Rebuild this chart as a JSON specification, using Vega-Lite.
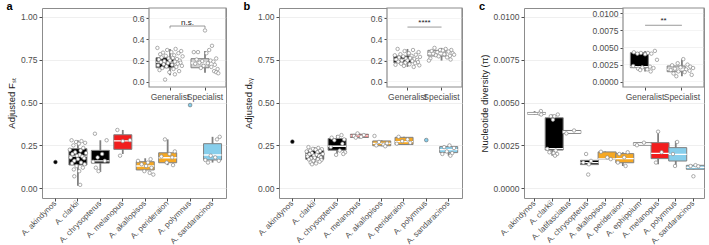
{
"$schema":"https://vega.github.io/schema/vega-lite/v6.json",
"background":"white",
"padding":{"left":5,"top":0,"right":3,"bottom":0},
"spacing":14,
"config":{
 "font":"Liberation Sans",
 "axis":{"labelFont":"Liberation Sans","titleFont":"Liberation Sans","labelColor":"#4d4d4d","labelFontSize":8.5,"titleFontSize":9.5,"titleFontWeight":"normal","titleColor":"#1a1a1a","tickColor":"#4d4d4d","tickSize":3,"domain":false,"gridColor":"#ebebeb","gridWidth":0.8,"labelOverlap":false},
 "axisX":{"grid":false},
 "view":{"stroke":"#8c8c8c","strokeWidth":1}
},
"datasets":{
 "aBox":[
  {"sp":"A. clarkii","lo":0.015,"q1":0.136,"med":0.188,"q3":0.231,"hi":0.28},
  {"sp":"A. chrysopterus","lo":0.095,"q1":0.147,"med":0.16,"q3":0.221,"hi":0.28},
  {"sp":"A. melanopus","lo":0.2,"q1":0.227,"med":0.276,"q3":0.312,"hi":0.34},
  {"sp":"A. akallopisos","lo":0.095,"q1":0.107,"med":0.13,"q3":0.155,"hi":0.175},
  {"sp":"A. perideraion","lo":0.135,"q1":0.149,"med":0.178,"q3":0.207,"hi":0.285},
  {"sp":"A. sandaracinos","lo":0.15,"q1":0.165,"med":0.194,"q3":0.26,"hi":0.3}
 ],
 "aOne":[{"sp":"A. akindynos","v":0.153},{"sp":"A. polymnus","v":0.485}],
 "aPts":[
  {"sp":"A. clarkii","v":0.28,"j":-0.7},{"sp":"A. clarkii","v":0.275,"j":0.4},{"sp":"A. clarkii","v":0.27,"j":-0.2},{"sp":"A. clarkii","v":0.265,"j":0.8},{"sp":"A. clarkii","v":0.26,"j":0.1},{"sp":"A. clarkii","v":0.25,"j":-0.5},{"sp":"A. clarkii","v":0.235,"j":0.6},{"sp":"A. clarkii","v":0.225,"j":-0.9},{"sp":"A. clarkii","v":0.22,"j":0.3},{"sp":"A. clarkii","v":0.21,"j":-0.3},{"sp":"A. clarkii","v":0.205,"j":0.9},{"sp":"A. clarkii","v":0.2,"j":-0.6},{"sp":"A. clarkii","v":0.195,"j":0.2},{"sp":"A. clarkii","v":0.19,"j":-0.1},{"sp":"A. clarkii","v":0.185,"j":0.5},{"sp":"A. clarkii","v":0.18,"j":-0.8},{"sp":"A. clarkii","v":0.175,"j":0.7},{"sp":"A. clarkii","v":0.17,"j":0.0},{"sp":"A. clarkii","v":0.16,"j":-0.4},{"sp":"A. clarkii","v":0.15,"j":0.35},{"sp":"A. clarkii","v":0.145,"j":-0.65},{"sp":"A. clarkii","v":0.14,"j":0.75},{"sp":"A. clarkii","v":0.13,"j":-0.15},{"sp":"A. clarkii","v":0.12,"j":0.55},{"sp":"A. clarkii","v":0.11,"j":-0.45},{"sp":"A. clarkii","v":0.1,"j":0.15},{"sp":"A. clarkii","v":0.07,"j":-0.4},{"sp":"A. clarkii","v":0.02,"j":0.25},
  {"sp":"A. chrysopterus","v":0.318,"j":-0.6},{"sp":"A. chrysopterus","v":0.28,"j":0.7},{"sp":"A. chrysopterus","v":0.2,"j":0.2},{"sp":"A. chrysopterus","v":0.18,"j":-0.3},{"sp":"A. chrysopterus","v":0.16,"j":0.5},{"sp":"A. chrysopterus","v":0.155,"j":-0.8},{"sp":"A. chrysopterus","v":0.12,"j":-0.5},{"sp":"A. chrysopterus","v":0.1,"j":-0.2},
  {"sp":"A. melanopus","v":0.34,"j":-0.6},{"sp":"A. melanopus","v":0.28,"j":0.8},{"sp":"A. melanopus","v":0.275,"j":0.0},{"sp":"A. melanopus","v":0.19,"j":-0.3},
  {"sp":"A. akallopisos","v":0.17,"j":0.6},{"sp":"A. akallopisos","v":0.16,"j":-0.8},{"sp":"A. akallopisos","v":0.15,"j":0.3},{"sp":"A. akallopisos","v":0.14,"j":-0.4},{"sp":"A. akallopisos","v":0.13,"j":0.1},{"sp":"A. akallopisos","v":0.12,"j":0.7},{"sp":"A. akallopisos","v":0.1,"j":-0.1},{"sp":"A. akallopisos","v":0.09,"j":0.5},{"sp":"A. akallopisos","v":0.08,"j":0.9},
  {"sp":"A. perideraion","v":0.285,"j":-0.3},{"sp":"A. perideraion","v":0.215,"j":0.8},{"sp":"A. perideraion","v":0.2,"j":0.2},{"sp":"A. perideraion","v":0.185,"j":-0.7},{"sp":"A. perideraion","v":0.18,"j":0.5},{"sp":"A. perideraion","v":0.15,"j":-0.1},{"sp":"A. perideraion","v":0.135,"j":0.6},
  {"sp":"A. sandaracinos","v":0.3,"j":0.8},{"sp":"A. sandaracinos","v":0.285,"j":0.5},{"sp":"A. sandaracinos","v":0.19,"j":-0.2},{"sp":"A. sandaracinos","v":0.18,"j":0.3},{"sp":"A. sandaracinos","v":0.165,"j":-0.8},{"sp":"A. sandaracinos","v":0.16,"j":0.7},{"sp":"A. sandaracinos","v":0.15,"j":-0.5}
 ],
 "aiBox":[
  {"g":"Generalist","lo":0.06,"q1":0.132,"med":0.186,"q3":0.227,"hi":0.31},
  {"g":"Specialist","lo":0.085,"q1":0.132,"med":0.177,"q3":0.218,"hi":0.29}
 ],
 "aiPts":[
  {"g":"Generalist","v":0.32,"j":-0.9},{"g":"Generalist","v":0.31,"j":0.4},{"g":"Generalist","v":0.3,"j":-0.2},{"g":"Generalist","v":0.29,"j":0.8},{"g":"Generalist","v":0.28,"j":0.1},{"g":"Generalist","v":0.275,"j":-0.5},{"g":"Generalist","v":0.27,"j":0.6},{"g":"Generalist","v":0.26,"j":-0.7},{"g":"Generalist","v":0.25,"j":0.3},{"g":"Generalist","v":0.245,"j":-0.3},{"g":"Generalist","v":0.24,"j":0.9},{"g":"Generalist","v":0.23,"j":-0.6},{"g":"Generalist","v":0.225,"j":0.2},{"g":"Generalist","v":0.22,"j":-0.1},{"g":"Generalist","v":0.215,"j":0.5},{"g":"Generalist","v":0.21,"j":-0.8},{"g":"Generalist","v":0.2,"j":0.7},{"g":"Generalist","v":0.2,"j":0.0},{"g":"Generalist","v":0.195,"j":-0.4},{"g":"Generalist","v":0.19,"j":0.35},{"g":"Generalist","v":0.185,"j":-0.65},{"g":"Generalist","v":0.18,"j":0.75},{"g":"Generalist","v":0.175,"j":-0.15},{"g":"Generalist","v":0.17,"j":0.55},{"g":"Generalist","v":0.165,"j":-0.45},{"g":"Generalist","v":0.16,"j":0.15},{"g":"Generalist","v":0.155,"j":-0.85},{"g":"Generalist","v":0.15,"j":0.85},{"g":"Generalist","v":0.145,"j":-0.25},{"g":"Generalist","v":0.14,"j":0.45},{"g":"Generalist","v":0.13,"j":-0.55},{"g":"Generalist","v":0.12,"j":0.25},{"g":"Generalist","v":0.11,"j":-0.75},{"g":"Generalist","v":0.1,"j":0.65},{"g":"Generalist","v":0.09,"j":-0.05},{"g":"Generalist","v":0.07,"j":0.35},{"g":"Generalist","v":0.02,"j":-0.35},
  {"g":"Specialist","v":0.485,"j":0.0},{"g":"Specialist","v":0.34,"j":0.5},{"g":"Specialist","v":0.3,"j":0.3},{"g":"Specialist","v":0.28,"j":-0.8},{"g":"Specialist","v":0.28,"j":-0.5},{"g":"Specialist","v":0.27,"j":0.1},{"g":"Specialist","v":0.22,"j":0.8},{"g":"Specialist","v":0.21,"j":-0.6},{"g":"Specialist","v":0.2,"j":0.4},{"g":"Specialist","v":0.195,"j":-0.2},{"g":"Specialist","v":0.19,"j":0.6},{"g":"Specialist","v":0.18,"j":-0.4},{"g":"Specialist","v":0.175,"j":0.2},{"g":"Specialist","v":0.17,"j":-0.7},{"g":"Specialist","v":0.16,"j":0.7},{"g":"Specialist","v":0.15,"j":-0.1},{"g":"Specialist","v":0.14,"j":0.45},{"g":"Specialist","v":0.13,"j":-0.3},{"g":"Specialist","v":0.12,"j":0.9},{"g":"Specialist","v":0.1,"j":0.65},{"g":"Specialist","v":0.09,"j":0.8},{"g":"Specialist","v":0.08,"j":0.95}
 ],
 "bBox":[
  {"sp":"A. clarkii","lo":0.145,"q1":0.169,"med":0.198,"q3":0.221,"hi":0.24},
  {"sp":"A. chrysopterus","lo":0.2,"q1":0.222,"med":0.245,"q3":0.29,"hi":0.31},
  {"sp":"A. melanopus","lo":0.29,"q1":0.296,"med":0.305,"q3":0.315,"hi":0.32},
  {"sp":"A. akallopisos","lo":0.245,"q1":0.248,"med":0.262,"q3":0.276,"hi":0.28},
  {"sp":"A. perideraion","lo":0.255,"q1":0.255,"med":0.272,"q3":0.297,"hi":0.3},
  {"sp":"A. sandaracinos","lo":0.19,"q1":0.208,"med":0.225,"q3":0.243,"hi":0.25}
 ],
 "bOne":[{"sp":"A. akindynos","v":0.272},{"sp":"A. polymnus","v":0.281}],
 "bPts":[
  {"sp":"A. clarkii","v":0.24,"j":-0.7},{"sp":"A. clarkii","v":0.235,"j":0.4},{"sp":"A. clarkii","v":0.23,"j":-0.2},{"sp":"A. clarkii","v":0.228,"j":0.8},{"sp":"A. clarkii","v":0.225,"j":0.1},{"sp":"A. clarkii","v":0.22,"j":-0.5},{"sp":"A. clarkii","v":0.218,"j":0.6},{"sp":"A. clarkii","v":0.215,"j":-0.9},{"sp":"A. clarkii","v":0.21,"j":0.3},{"sp":"A. clarkii","v":0.205,"j":-0.3},{"sp":"A. clarkii","v":0.2,"j":0.9},{"sp":"A. clarkii","v":0.198,"j":-0.6},{"sp":"A. clarkii","v":0.195,"j":0.2},{"sp":"A. clarkii","v":0.19,"j":-0.1},{"sp":"A. clarkii","v":0.188,"j":0.5},{"sp":"A. clarkii","v":0.185,"j":-0.8},{"sp":"A. clarkii","v":0.18,"j":0.7},{"sp":"A. clarkii","v":0.178,"j":0.0},{"sp":"A. clarkii","v":0.175,"j":-0.4},{"sp":"A. clarkii","v":0.17,"j":0.35},{"sp":"A. clarkii","v":0.168,"j":-0.65},{"sp":"A. clarkii","v":0.165,"j":0.75},{"sp":"A. clarkii","v":0.16,"j":-0.15},{"sp":"A. clarkii","v":0.155,"j":0.55},{"sp":"A. clarkii","v":0.15,"j":-0.45},{"sp":"A. clarkii","v":0.145,"j":0.15},{"sp":"A. clarkii","v":0.14,"j":-0.3},
  {"sp":"A. chrysopterus","v":0.31,"j":0.5},{"sp":"A. chrysopterus","v":0.3,"j":0.1},{"sp":"A. chrysopterus","v":0.295,"j":-0.6},{"sp":"A. chrysopterus","v":0.285,"j":0.8},{"sp":"A. chrysopterus","v":0.28,"j":-0.3},{"sp":"A. chrysopterus","v":0.26,"j":0.6},{"sp":"A. chrysopterus","v":0.24,"j":-0.7},{"sp":"A. chrysopterus","v":0.22,"j":0.3},{"sp":"A. chrysopterus","v":0.21,"j":0.9},{"sp":"A. chrysopterus","v":0.2,"j":0.7},{"sp":"A. chrysopterus","v":0.195,"j":-0.1},
  {"sp":"A. melanopus","v":0.32,"j":-0.2},{"sp":"A. melanopus","v":0.31,"j":0.5},{"sp":"A. melanopus","v":0.305,"j":-0.6},{"sp":"A. melanopus","v":0.3,"j":0.2},{"sp":"A. melanopus","v":0.295,"j":-0.4},
  {"sp":"A. akallopisos","v":0.305,"j":-0.8},{"sp":"A. akallopisos","v":0.27,"j":-0.3},{"sp":"A. akallopisos","v":0.262,"j":0.6},{"sp":"A. akallopisos","v":0.255,"j":0.2},{"sp":"A. akallopisos","v":0.25,"j":-0.6},{"sp":"A. akallopisos","v":0.245,"j":0.4},
  {"sp":"A. perideraion","v":0.3,"j":-0.6},{"sp":"A. perideraion","v":0.285,"j":0.4},{"sp":"A. perideraion","v":0.275,"j":-0.2},{"sp":"A. perideraion","v":0.265,"j":0.7},{"sp":"A. perideraion","v":0.26,"j":-0.8},
  {"sp":"A. sandaracinos","v":0.25,"j":0.1},{"sp":"A. sandaracinos","v":0.24,"j":-0.5},{"sp":"A. sandaracinos","v":0.235,"j":0.6},{"sp":"A. sandaracinos","v":0.215,"j":-0.2},{"sp":"A. sandaracinos","v":0.205,"j":0.4},{"sp":"A. sandaracinos","v":0.2,"j":-0.7},{"sp":"A. sandaracinos","v":0.19,"j":0.2}
 ],
 "biBox":[
  {"g":"Generalist","lo":0.14,"q1":0.18,"med":0.21,"q3":0.243,"hi":0.31},
  {"g":"Specialist","lo":0.2,"q1":0.243,"med":0.265,"q3":0.297,"hi":0.32}
 ],
 "biPts":[
  {"g":"Generalist","v":0.31,"j":-0.7},{"g":"Generalist","v":0.3,"j":0.4},{"g":"Generalist","v":0.29,"j":-0.2},{"g":"Generalist","v":0.28,"j":0.8},{"g":"Generalist","v":0.27,"j":0.1},{"g":"Generalist","v":0.26,"j":-0.5},{"g":"Generalist","v":0.255,"j":0.6},{"g":"Generalist","v":0.25,"j":-0.9},{"g":"Generalist","v":0.245,"j":0.3},{"g":"Generalist","v":0.24,"j":-0.3},{"g":"Generalist","v":0.235,"j":0.9},{"g":"Generalist","v":0.23,"j":-0.6},{"g":"Generalist","v":0.225,"j":0.2},{"g":"Generalist","v":0.22,"j":-0.1},{"g":"Generalist","v":0.215,"j":0.5},{"g":"Generalist","v":0.21,"j":-0.8},{"g":"Generalist","v":0.205,"j":0.7},{"g":"Generalist","v":0.2,"j":0.0},{"g":"Generalist","v":0.2,"j":-0.4},{"g":"Generalist","v":0.195,"j":0.35},{"g":"Generalist","v":0.19,"j":-0.65},{"g":"Generalist","v":0.185,"j":0.75},{"g":"Generalist","v":0.18,"j":-0.15},{"g":"Generalist","v":0.175,"j":0.55},{"g":"Generalist","v":0.17,"j":-0.45},{"g":"Generalist","v":0.165,"j":0.15},{"g":"Generalist","v":0.16,"j":-0.85},{"g":"Generalist","v":0.155,"j":0.85},{"g":"Generalist","v":0.15,"j":-0.25},{"g":"Generalist","v":0.14,"j":0.45},
  {"g":"Specialist","v":0.32,"j":-0.5},{"g":"Specialist","v":0.31,"j":0.3},{"g":"Specialist","v":0.3,"j":0.7},{"g":"Specialist","v":0.3,"j":-0.1},{"g":"Specialist","v":0.295,"j":0.1},{"g":"Specialist","v":0.29,"j":-0.7},{"g":"Specialist","v":0.285,"j":0.5},{"g":"Specialist","v":0.28,"j":-0.3},{"g":"Specialist","v":0.27,"j":0.8},{"g":"Specialist","v":0.265,"j":-0.6},{"g":"Specialist","v":0.26,"j":0.2},{"g":"Specialist","v":0.255,"j":0.9},{"g":"Specialist","v":0.25,"j":-0.4},{"g":"Specialist","v":0.245,"j":0.6},{"g":"Specialist","v":0.24,"j":-0.2},{"g":"Specialist","v":0.23,"j":0.4},{"g":"Specialist","v":0.22,"j":-0.8},{"g":"Specialist","v":0.21,"j":0.65},{"g":"Specialist","v":0.2,"j":-0.9}
 ],
 "cBox":[
  {"sp":"A. akindynos","lo":0.0043,"q1":0.00432,"med":0.00437,"q3":0.00442,"hi":0.0045},
  {"sp":"A. clarkii","lo":0.0019,"q1":0.00223,"med":0.00231,"q3":0.00411,"hi":0.0043},
  {"sp":"A. latifasciatus","lo":0.0032,"q1":0.0032,"med":0.00328,"q3":0.00337,"hi":0.00337},
  {"sp":"A. chrysopterus","lo":0.00135,"q1":0.00138,"med":0.0015,"q3":0.00163,"hi":0.00165},
  {"sp":"A. akallopisos","lo":0.0017,"q1":0.0017,"med":0.00172,"q3":0.00212,"hi":0.00215},
  {"sp":"A. perideraion","lo":0.0013,"q1":0.00149,"med":0.00173,"q3":0.00202,"hi":0.0021},
  {"sp":"A. ephippium","lo":0.00251,"q1":0.00251,"med":0.00258,"q3":0.00266,"hi":0.00266},
  {"sp":"A. melanopus","lo":0.0014,"q1":0.00173,"med":0.00204,"q3":0.00266,"hi":0.0033},
  {"sp":"A. polymnus","lo":0.00124,"q1":0.00159,"med":0.00198,"q3":0.00237,"hi":0.00276},
  {"sp":"A. sandaracinos","lo":0.0011,"q1":0.00111,"med":0.00122,"q3":0.00134,"hi":0.00135}
 ],
 "cPts":[
  {"sp":"A. akindynos","v":0.0045,"j":0.9},{"sp":"A. akindynos","v":0.00435,"j":0.7},{"sp":"A. akindynos","v":0.0043,"j":0.95},
  {"sp":"A. clarkii","v":0.0043,"j":0.8},{"sp":"A. clarkii","v":0.0042,"j":-0.2},{"sp":"A. clarkii","v":0.0042,"j":0.3},{"sp":"A. clarkii","v":0.004,"j":0.1},{"sp":"A. clarkii","v":0.0023,"j":-0.7},{"sp":"A. clarkii","v":0.0022,"j":0.5},{"sp":"A. clarkii","v":0.0021,"j":-0.4},{"sp":"A. clarkii","v":0.00205,"j":0.2},{"sp":"A. clarkii","v":0.002,"j":0.7},{"sp":"A. clarkii","v":0.0019,"j":0.4},
  {"sp":"A. latifasciatus","v":0.00337,"j":0.6},{"sp":"A. latifasciatus","v":0.0032,"j":-0.5},
  {"sp":"A. chrysopterus","v":0.002,"j":-0.2},{"sp":"A. chrysopterus","v":0.0016,"j":0.5},{"sp":"A. chrysopterus","v":0.0015,"j":-0.6},{"sp":"A. chrysopterus","v":0.0014,"j":0.2},{"sp":"A. chrysopterus","v":0.0008,"j":0.1},
  {"sp":"A. akallopisos","v":0.00213,"j":-0.6},{"sp":"A. akallopisos","v":0.0018,"j":0.3},{"sp":"A. akallopisos","v":0.0017,"j":0.8},
  {"sp":"A. perideraion","v":0.0021,"j":0.7},{"sp":"A. perideraion","v":0.002,"j":-0.5},{"sp":"A. perideraion","v":0.0018,"j":0.2},{"sp":"A. perideraion","v":0.0015,"j":-0.7},{"sp":"A. perideraion","v":0.0013,"j":0.4},
  {"sp":"A. ephippium","v":0.00266,"j":0.5},{"sp":"A. ephippium","v":0.00251,"j":-0.5},
  {"sp":"A. melanopus","v":0.0033,"j":0.0},{"sp":"A. melanopus","v":0.0021,"j":0.5},{"sp":"A. melanopus","v":0.0015,"j":-0.3},
  {"sp":"A. polymnus","v":0.0027,"j":0.2},{"sp":"A. polymnus","v":0.002,"j":-0.4},{"sp":"A. polymnus","v":0.0013,"j":-0.1},
  {"sp":"A. sandaracinos","v":0.00135,"j":0.3},{"sp":"A. sandaracinos","v":0.0013,"j":-0.4},{"sp":"A. sandaracinos","v":0.00128,"j":0.7},{"sp":"A. sandaracinos","v":0.0007,"j":0.0}
 ],
 "ciBox":[
  {"g":"Generalist","lo":0.0015,"q1":0.00205,"med":0.0022,"q3":0.00424,"hi":0.0045},
  {"g":"Specialist","lo":0.0008,"q1":0.00146,"med":0.0018,"q3":0.0023,"hi":0.0033}
 ],
 "ciPts":[
  {"g":"Generalist","v":0.0045,"j":0.7},{"g":"Generalist","v":0.0043,"j":-0.8},{"g":"Generalist","v":0.0042,"j":-0.3},{"g":"Generalist","v":0.0042,"j":0.2},{"g":"Generalist","v":0.0041,"j":-0.55},{"g":"Generalist","v":0.0041,"j":0.45},{"g":"Generalist","v":0.004,"j":0.0},{"g":"Generalist","v":0.0032,"j":0.85},{"g":"Generalist","v":0.0023,"j":-0.85},{"g":"Generalist","v":0.0022,"j":0.35},{"g":"Generalist","v":0.0021,"j":-0.2},{"g":"Generalist","v":0.002,"j":0.6},{"g":"Generalist","v":0.0019,"j":-0.5},{"g":"Generalist","v":0.0018,"j":0.15},{"g":"Generalist","v":0.0017,"j":-0.35},{"g":"Generalist","v":0.0015,"j":0.4},
  {"g":"Specialist","v":0.0033,"j":0.1},{"g":"Specialist","v":0.0027,"j":-0.3},{"g":"Specialist","v":0.0025,"j":0.4},{"g":"Specialist","v":0.0024,"j":-0.7},{"g":"Specialist","v":0.0022,"j":0.6},{"g":"Specialist","v":0.0021,"j":-0.1},{"g":"Specialist","v":0.002,"j":0.8},{"g":"Specialist","v":0.0019,"j":-0.5},{"g":"Specialist","v":0.0018,"j":0.3},{"g":"Specialist","v":0.0017,"j":-0.8},{"g":"Specialist","v":0.0016,"j":0.55},{"g":"Specialist","v":0.0015,"j":-0.25},{"g":"Specialist","v":0.0014,"j":0.2},{"g":"Specialist","v":0.0012,"j":-0.6},{"g":"Specialist","v":0.001,"j":0.7},{"g":"Specialist","v":0.0008,"j":-0.4}
 ]
},
"resolve":{"scale":{"fill":"independent","xOffset":"independent"}},
"hconcat":[
 {
  "width":184,"height":190,
  "title":{"text":"a","anchor":"start","frame":"bounds","fontSize":11,"fontWeight":"bold","font":"Liberation Sans","offset":2,"dy":7},
  "layer":[
   {"layer":[
    {"data":{"name":"aBox"},"mark":{"type":"rule","color":"#808080","strokeWidth":1.8},
     "encoding":{
      "x":{"field":"sp","type":"nominal","scale":{"domain":["A. akindynos","A. clarkii","A. chrysopterus","A. melanopus","A. akallopisos","A. perideraion","A. polymnus","A. sandaracinos"],"paddingInner":0,"paddingOuter":0.1},"axis":{"orient":"bottom","title":null,"labelAngle":-45,"labelAlign":"right","labelBaseline":"middle","labelFontSize":8,"labelPadding":1}},
      "y":{"field":"lo","type":"quantitative","scale":{"domain":[-0.0565,1.0507],"nice":false,"zero":false},"axis":{"orient":"left","title":"Adjusted Fₛₜ","values":[0,0.25,0.5,0.75,1],"format":".2f","grid":true}},
      "y2":{"field":"hi"}}},
    {"data":{"name":"aBox"},"mark":{"type":"bar","stroke":"#808080","strokeWidth":1,"width":{"band":0.8}},
     "encoding":{"x":{"field":"sp","type":"nominal"},"y":{"field":"q1","type":"quantitative"},"y2":{"field":"q3"},
      "fill":{"field":"sp","type":"nominal","scale":{"domain":["A. akindynos","A. clarkii","A. chrysopterus","A. melanopus","A. akallopisos","A. perideraion","A. polymnus","A. sandaracinos"],"range":["#000000","#000000","#000000","#f21d1d","#f6a823","#f6a823","#87ceeb","#87ceeb"]},"legend":null}}},
    {"data":{"name":"aBox"},"mark":{"type":"bar","stroke":"white","strokeWidth":1.3,"fillOpacity":0,"width":{"band":0.8}},
     "encoding":{"x":{"field":"sp","type":"nominal"},"y":{"field":"med","type":"quantitative"},"y2":{"field":"med"}}},
    {"data":{"name":"aPts"},"mark":{"type":"circle","fill":"white","stroke":"#8a8a8a","strokeWidth":0.7,"size":12,"opacity":1},
     "encoding":{"x":{"field":"sp","type":"nominal"},"xOffset":{"field":"j","type":"quantitative","scale":{"domain":[-1,1],"range":[2.2,20.2]}},"y":{"field":"v","type":"quantitative"}}},
    {"data":{"name":"aOne"},"mark":{"type":"circle","stroke":"#555555","strokeWidth":0.5,"size":14,"opacity":1},
     "encoding":{"x":{"field":"sp","type":"nominal"},"y":{"field":"v","type":"quantitative"},"fill":{"field":"sp","type":"nominal"}}}
   ]},
   {"layer":[
    {"data":{"values":[{}]},"mark":{"type":"bar","fill":"white","stroke":"#8c8c8c","strokeWidth":1.2,"width":{"band":1}},
     "encoding":{"x":{"datum":"f","type":"nominal","scale":{"domain":["f"],"range":[107,184],"paddingInner":0,"paddingOuter":0},"axis":null},
      "y":{"datum":-0.05,"type":"quantitative","scale":{"domain":[-0.05,0.6975],"range":[79,0],"nice":false,"zero":false},"axis":null},
      "y2":{"datum":0.6975}}},
    {"data":{"values":[{"gv":0},{"gv":0.2},{"gv":0.4},{"gv":0.6}]},"mark":{"type":"tick","color":"#ebebeb","thickness":0.8,"size":76},
     "encoding":{"x":{"datum":"f","type":"nominal"},"y":{"field":"gv","type":"quantitative"}}}
   ]},
   {"layer":[
    {"data":{"name":"aiBox"},"mark":{"type":"rule","color":"#808080","strokeWidth":1.8},
     "encoding":{
      "x":{"field":"g","type":"nominal","scale":{"domain":["Generalist","Specialist"],"range":[107,184],"paddingInner":0,"paddingOuter":0.1},"axis":{"orient":"bottom","offset":-111,"title":null,"labelAngle":0}},
      "y":{"field":"lo","type":"quantitative","scale":{"domain":[-0.05,0.6975],"range":[79,0],"nice":false,"zero":false},"axis":{"orient":"left","offset":-107,"title":null,"values":[0,0.2,0.4,0.6],"format":".1f","grid":false}},
      "y2":{"field":"hi"}}},
    {"data":{"name":"aiBox"},"mark":{"type":"bar","stroke":"#808080","strokeWidth":1,"width":{"band":0.8}},
     "encoding":{"x":{"field":"g","type":"nominal"},"y":{"field":"q1","type":"quantitative"},"y2":{"field":"q3"},
      "fill":{"field":"g","type":"nominal","scale":{"domain":["Generalist","Specialist"],"range":["#000000","#d4d4d4"]},"legend":null}}},
    {"data":{"name":"aiBox"},"mark":{"type":"bar","stroke":"white","strokeWidth":1.3,"fillOpacity":0,"width":{"band":0.8}},
     "encoding":{"x":{"field":"g","type":"nominal"},"y":{"field":"med","type":"quantitative"},"y2":{"field":"med"}}},
    {"data":{"name":"aiPts"},"mark":{"type":"circle","fill":"white","stroke":"#8a8a8a","strokeWidth":0.7,"size":12,"opacity":1},
     "encoding":{"x":{"field":"g","type":"nominal"},"xOffset":{"field":"j","type":"quantitative","scale":{"domain":[-1,1],"range":[3.5,31.5]}},"y":{"field":"v","type":"quantitative"}}},
    {"data":{"values":[{}]},"mark":{"type":"rule","color":"#808080","strokeWidth":0.8},
     "encoding":{"x":{"datum":"Generalist"},"x2":{"datum":"Specialist"},"y":{"datum":0.527}}},
    {"data":{"values":[{"g":"Generalist"},{"g":"Specialist"}]},"mark":{"type":"rule","color":"#808080","strokeWidth":0.8},
     "encoding":{"x":{"field":"g","type":"nominal"},"y":{"datum":0.527},"y2":{"datum":0.505}}},
    {"data":{"values":[{}]},"mark":{"type":"text","fontSize":8,"font":"Liberation Sans","color":"#1a1a1a","baseline":"alphabetic"},
     "encoding":{"x":{"datum":"Generalist","bandPosition":1},"y":{"datum":0.537},"text":{"value":"n.s."}}}
   ]}
  ],
  "resolve":{"scale":{"x":"independent","y":"independent","fill":"independent","xOffset":"independent"},"axis":{"x":"independent","y":"independent"}}
 },
 {
  "width":183,"height":190,
  "title":{"text":"b","anchor":"start","frame":"bounds","fontSize":11,"fontWeight":"bold","font":"Liberation Sans","offset":2,"dy":7},
  "layer":[
   {"layer":[
    {"data":{"name":"bBox"},"mark":{"type":"rule","color":"#808080","strokeWidth":1.8},
     "encoding":{
      "x":{"field":"sp","type":"nominal","scale":{"domain":["A. akindynos","A. clarkii","A. chrysopterus","A. melanopus","A. akallopisos","A. perideraion","A. polymnus","A. sandaracinos"],"paddingInner":0,"paddingOuter":0.1},"axis":{"orient":"bottom","title":null,"labelAngle":-45,"labelAlign":"right","labelBaseline":"middle","labelFontSize":8,"labelPadding":1}},
      "y":{"field":"lo","type":"quantitative","scale":{"domain":[-0.0565,1.0507],"nice":false,"zero":false},"axis":{"orient":"left","title":"Adjusted dₓᵧ","values":[0,0.25,0.5,0.75,1],"format":".2f","grid":true}},
      "y2":{"field":"hi"}}},
    {"data":{"name":"bBox"},"mark":{"type":"bar","stroke":"#808080","strokeWidth":1,"width":{"band":0.8}},
     "encoding":{"x":{"field":"sp","type":"nominal"},"y":{"field":"q1","type":"quantitative"},"y2":{"field":"q3"},
      "fill":{"field":"sp","type":"nominal","scale":{"domain":["A. akindynos","A. clarkii","A. chrysopterus","A. melanopus","A. akallopisos","A. perideraion","A. polymnus","A. sandaracinos"],"range":["#000000","#000000","#000000","#f21d1d","#f6a823","#f6a823","#87ceeb","#87ceeb"]},"legend":null}}},
    {"data":{"name":"bBox"},"mark":{"type":"bar","stroke":"white","strokeWidth":1.3,"fillOpacity":0,"width":{"band":0.8}},
     "encoding":{"x":{"field":"sp","type":"nominal"},"y":{"field":"med","type":"quantitative"},"y2":{"field":"med"}}},
    {"data":{"name":"bPts"},"mark":{"type":"circle","fill":"white","stroke":"#8a8a8a","strokeWidth":0.7,"size":12,"opacity":1},
     "encoding":{"x":{"field":"sp","type":"nominal"},"xOffset":{"field":"j","type":"quantitative","scale":{"domain":[-1,1],"range":[2.2,20.1]}},"y":{"field":"v","type":"quantitative"}}},
    {"data":{"name":"bOne"},"mark":{"type":"circle","stroke":"#555555","strokeWidth":0.5,"size":14,"opacity":1},
     "encoding":{"x":{"field":"sp","type":"nominal"},"y":{"field":"v","type":"quantitative"},"fill":{"field":"sp","type":"nominal"}}}
   ]},
   {"layer":[
    {"data":{"values":[{}]},"mark":{"type":"bar","fill":"white","stroke":"#8c8c8c","strokeWidth":1.2,"width":{"band":1}},
     "encoding":{"x":{"datum":"f","type":"nominal","scale":{"domain":["f"],"range":[108,183],"paddingInner":0,"paddingOuter":0},"axis":null},
      "y":{"datum":-0.05,"type":"quantitative","scale":{"domain":[-0.05,0.6975],"range":[79,0],"nice":false,"zero":false},"axis":null},
      "y2":{"datum":0.6975}}},
    {"data":{"values":[{"gv":0},{"gv":0.2},{"gv":0.4},{"gv":0.6}]},"mark":{"type":"tick","color":"#ebebeb","thickness":0.8,"size":74},
     "encoding":{"x":{"datum":"f","type":"nominal"},"y":{"field":"gv","type":"quantitative"}}}
   ]},
   {"layer":[
    {"data":{"name":"biBox"},"mark":{"type":"rule","color":"#808080","strokeWidth":1.8},
     "encoding":{
      "x":{"field":"g","type":"nominal","scale":{"domain":["Generalist","Specialist"],"range":[108,183],"paddingInner":0,"paddingOuter":0.1},"axis":{"orient":"bottom","offset":-111,"title":null,"labelAngle":0}},
      "y":{"field":"lo","type":"quantitative","scale":{"domain":[-0.05,0.6975],"range":[79,0],"nice":false,"zero":false},"axis":{"orient":"left","offset":-108,"title":null,"values":[0,0.2,0.4,0.6],"format":".1f","grid":false}},
      "y2":{"field":"hi"}}},
    {"data":{"name":"biBox"},"mark":{"type":"bar","stroke":"#808080","strokeWidth":1,"width":{"band":0.8}},
     "encoding":{"x":{"field":"g","type":"nominal"},"y":{"field":"q1","type":"quantitative"},"y2":{"field":"q3"},
      "fill":{"field":"g","type":"nominal","scale":{"domain":["Generalist","Specialist"],"range":["#000000","#d4d4d4"]},"legend":null}}},
    {"data":{"name":"biBox"},"mark":{"type":"bar","stroke":"white","strokeWidth":1.3,"fillOpacity":0,"width":{"band":0.8}},
     "encoding":{"x":{"field":"g","type":"nominal"},"y":{"field":"med","type":"quantitative"},"y2":{"field":"med"}}},
    {"data":{"name":"biPts"},"mark":{"type":"circle","fill":"white","stroke":"#8a8a8a","strokeWidth":0.7,"size":12,"opacity":1},
     "encoding":{"x":{"field":"g","type":"nominal"},"xOffset":{"field":"j","type":"quantitative","scale":{"domain":[-1,1],"range":[3,31]}},"y":{"field":"v","type":"quantitative"}}},
    {"data":{"values":[{}]},"mark":{"type":"rule","color":"#808080","strokeWidth":0.8},
     "encoding":{"x":{"datum":"Generalist"},"x2":{"datum":"Specialist"},"y":{"datum":0.517}}},
    {"data":{"values":[{}]},"mark":{"type":"text","fontSize":8,"font":"Liberation Sans","color":"#1a1a1a","baseline":"bottom"},
     "encoding":{"x":{"datum":"Generalist","bandPosition":1},"y":{"datum":0.522},"text":{"value":"****"}}}
   ]}
  ],
  "resolve":{"scale":{"x":"independent","y":"independent","fill":"independent","xOffset":"independent"},"axis":{"x":"independent","y":"independent"}}
 },
 {
  "width":180,"height":190,
  "title":{"text":"c","anchor":"start","frame":"bounds","fontSize":11,"fontWeight":"bold","font":"Liberation Sans","offset":2,"dy":7},
  "layer":[
   {"layer":[
    {"data":{"name":"cBox"},"mark":{"type":"rule","color":"#808080","strokeWidth":1.8},
     "encoding":{
      "x":{"field":"sp","type":"nominal","scale":{"domain":["A. akindynos","A. clarkii","A. latifasciatus","A. chrysopterus","A. akallopisos","A. perideraion","A. ephippium","A. melanopus","A. polymnus","A. sandaracinos"],"paddingInner":0,"paddingOuter":0.1},"axis":{"orient":"bottom","title":null,"labelAngle":-45,"labelAlign":"right","labelBaseline":"middle","labelFontSize":8,"labelPadding":1}},
      "y":{"field":"lo","type":"quantitative","scale":{"domain":[-0.000565,0.010507],"nice":false,"zero":false},"axis":{"orient":"left","title":"Nucleotide diversity (π)","values":[0,0.0025,0.005,0.0075,0.01],"format":".4f","grid":true}},
      "y2":{"field":"hi"}}},
    {"data":{"name":"cBox"},"mark":{"type":"bar","stroke":"#808080","strokeWidth":1,"width":{"band":0.8}},
     "encoding":{"x":{"field":"sp","type":"nominal"},"y":{"field":"q1","type":"quantitative"},"y2":{"field":"q3"},
      "fill":{"field":"sp","type":"nominal","scale":{"domain":["A. akindynos","A. clarkii","A. latifasciatus","A. chrysopterus","A. akallopisos","A. perideraion","A. ephippium","A. melanopus","A. polymnus","A. sandaracinos"],"range":["#ffffff","#000000","#ffffff","#000000","#f6a823","#f6a823","#ffffff","#f21d1d","#87ceeb","#87ceeb"]},"legend":null}}},
    {"data":{"name":"cBox"},"mark":{"type":"bar","stroke":"white","strokeWidth":1.3,"fillOpacity":0,"width":{"band":0.8}},
     "encoding":{"x":{"field":"sp","type":"nominal"},"y":{"field":"med","type":"quantitative"},"y2":{"field":"med"}}},
    {"data":{"name":"cPts"},"mark":{"type":"circle","fill":"white","stroke":"#8a8a8a","strokeWidth":0.7,"size":12,"opacity":1},
     "encoding":{"x":{"field":"sp","type":"nominal"},"xOffset":{"field":"j","type":"quantitative","scale":{"domain":[-1,1],"range":[1.8,15.8]}},"y":{"field":"v","type":"quantitative"}}}
   ]},
   {"layer":[
    {"data":{"values":[{}]},"mark":{"type":"bar","fill":"white","stroke":"#8c8c8c","strokeWidth":1.2,"width":{"band":1}},
     "encoding":{"x":{"datum":"f","type":"nominal","scale":{"domain":["f"],"range":[99,180],"paddingInner":0,"paddingOuter":0},"axis":null},
      "y":{"datum":-0.000775,"type":"quantitative","scale":{"domain":[-0.000775,0.010775],"range":[79,0],"nice":false,"zero":false},"axis":null},
      "y2":{"datum":0.010775}}},
    {"data":{"values":[{"gv":0},{"gv":0.0025},{"gv":0.005},{"gv":0.0075},{"gv":0.01}]},"mark":{"type":"tick","color":"#ebebeb","thickness":0.8,"size":80},
     "encoding":{"x":{"datum":"f","type":"nominal"},"y":{"field":"gv","type":"quantitative"}}}
   ]},
   {"layer":[
    {"data":{"name":"ciBox"},"mark":{"type":"rule","color":"#808080","strokeWidth":1.8},
     "encoding":{
      "x":{"field":"g","type":"nominal","scale":{"domain":["Generalist","Specialist"],"range":[99,180],"paddingInner":0,"paddingOuter":0.1},"axis":{"orient":"bottom","offset":-111,"title":null,"labelAngle":0}},
      "y":{"field":"lo","type":"quantitative","scale":{"domain":[-0.000775,0.010775],"range":[79,0],"nice":false,"zero":false},"axis":{"orient":"left","offset":-99,"title":null,"values":[0,0.0025,0.005,0.0075,0.01],"format":".4f","grid":false}},
      "y2":{"field":"hi"}}},
    {"data":{"name":"ciBox"},"mark":{"type":"bar","stroke":"#808080","strokeWidth":1,"width":{"band":0.8}},
     "encoding":{"x":{"field":"g","type":"nominal"},"y":{"field":"q1","type":"quantitative"},"y2":{"field":"q3"},
      "fill":{"field":"g","type":"nominal","scale":{"domain":["Generalist","Specialist"],"range":["#000000","#d4d4d4"]},"legend":null}}},
    {"data":{"name":"ciBox"},"mark":{"type":"bar","stroke":"white","strokeWidth":1.3,"fillOpacity":0,"width":{"band":0.8}},
     "encoding":{"x":{"field":"g","type":"nominal"},"y":{"field":"med","type":"quantitative"},"y2":{"field":"med"}}},
    {"data":{"name":"ciPts"},"mark":{"type":"circle","fill":"white","stroke":"#8a8a8a","strokeWidth":0.7,"size":12,"opacity":1},
     "encoding":{"x":{"field":"g","type":"nominal"},"xOffset":{"field":"j","type":"quantitative","scale":{"domain":[-1,1],"range":[4.4,32.4]}},"y":{"field":"v","type":"quantitative"}}},
    {"data":{"values":[{}]},"mark":{"type":"rule","color":"#808080","strokeWidth":0.8},
     "encoding":{"x":{"datum":"Generalist"},"x2":{"datum":"Specialist"},"y":{"datum":0.00825}}},
    {"data":{"values":[{}]},"mark":{"type":"text","fontSize":8,"font":"Liberation Sans","color":"#1a1a1a","baseline":"bottom"},
     "encoding":{"x":{"datum":"Generalist","bandPosition":1},"y":{"datum":0.0083},"text":{"value":"**"}}}
   ]}
  ],
  "resolve":{"scale":{"x":"independent","y":"independent","fill":"independent","xOffset":"independent"},"axis":{"x":"independent","y":"independent"}}
 }
]
}
